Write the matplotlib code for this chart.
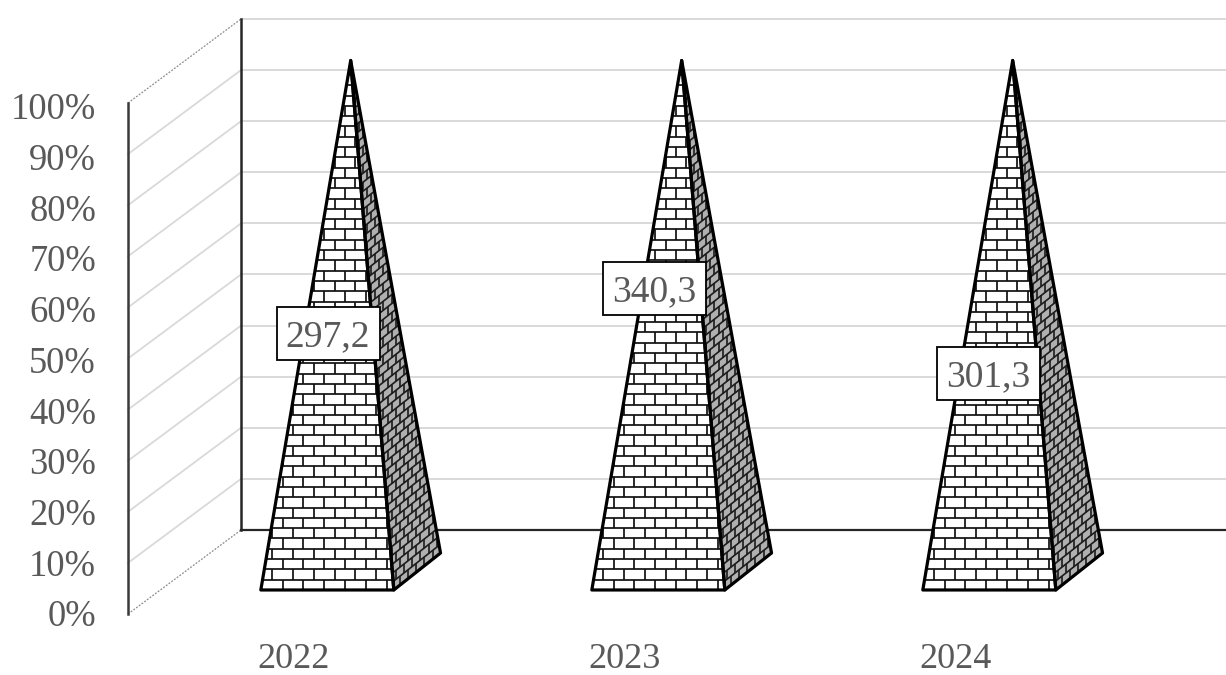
#!/usr/bin/env python3
"""3D-style 100% pyramid chart with brick fill, drawn by hand on flat axes"""

import matplotlib
matplotlib.use('Agg')
import matplotlib.pyplot as plt
from matplotlib.collections import LineCollection
from matplotlib.patches import Polygon, Rectangle

years = ['2022', '2023', '2024']
values = [297.2, 340.3, 301.3]
value_labels = ['297,2', '340,3', '301,3']
percent_ticks = [0, 10, 20, 30, 40, 50, 60, 70, 80, 90, 100]
# where each value box sits: height in percent, sideways shift in pixels
label_heights = [54.9, 63.7, 47.0]
label_shifts = [34.5, 30, 32.5]

WIDTH, HEIGHT = 1226, 675
TEXT = '#595959'
GRID = '#d9d9d9'

# pixel layout of the front plane
PX_LEFT, PX_CAT = 128, 331
PX_ZERO, PX_PCT = 614, 5.11
# shift of the back wall relative to the front, in data units
DEPTH_X = 113 / PX_CAT
DEPTH_Y = 84 / PX_PCT

plt.rcParams['font.family'] = ['Liberation Serif', 'DejaVu Serif']

fig = plt.figure(figsize=(WIDTH / 100, HEIGHT / 100), dpi=100)
ax = fig.add_axes([0, 0, 1, 1])
ax.set_xlim(-0.5 - PX_LEFT / PX_CAT, -0.5 + (WIDTH - PX_LEFT) / PX_CAT)
ax.set_ylim((PX_ZERO - HEIGHT) / PX_PCT, PX_ZERO / PX_PCT)
ax.axis('off')


def project(x, y, depth=0.0):
    return x + depth * DEPTH_X, y + depth * DEPTH_Y


# walls and floor
wall_x0, wall_x1 = -0.5, -0.5 + DEPTH_X
for p in percent_ticks[1:-1]:
    ax.plot([wall_x0, wall_x1], [p, p + DEPTH_Y], color=GRID, lw=1.3, zorder=1)
    ax.plot([wall_x1, 4], [p + DEPTH_Y, p + DEPTH_Y], color=GRID, lw=1.4, zorder=1)
ax.plot([wall_x1, 4], [100 + DEPTH_Y, 100 + DEPTH_Y], color=GRID, lw=1.4, zorder=1)
for p in (0, 100):
    ax.plot([wall_x0, wall_x1], [p, p + DEPTH_Y], color='#8c8c8c', lw=0.9,
            ls=(0, (1.5, 1.2)), zorder=1)
ax.plot([wall_x0, wall_x0], [0, 100], color='#3a3a3a', lw=1.8, zorder=2)
ax.plot([wall_x1, wall_x1], [DEPTH_Y, 100 + DEPTH_Y], color='#262626', lw=1.8, zorder=2)
ax.plot([wall_x1, 4], [DEPTH_Y, DEPTH_Y], color='#262626', lw=1.6, zorder=2)

# brick pattern sizes, in data units
ROW = 10.3 / PX_PCT
BRICK = 20.8 / PX_CAT
SIDE_ROW = 9.0 / PX_PCT
SIDE_STEP = 8.2 / PX_CAT
SLOPE = 37 / 47 * PX_CAT / PX_PCT  # rise of the side bricks per unit of x

half_w = 66.5 / PX_CAT
d_front, d_back, d_mid = 0.286, 0.726, 0.506
base_nudge = 1.5 / PX_CAT
box_w, box_h = 103 / PX_CAT, 53 / PX_PCT

for i, value in enumerate(values):
    # 100% stacked with one series: every pyramid reaches the full height
    pct = value / values[i] * 100
    fl = project(i - half_w + base_nudge, 0, d_front)
    fr = project(i + half_w + base_nudge, 0, d_front)
    br = project(i + half_w - base_nudge, 0, d_back)
    apex = project(i, pct, d_mid)

    front = Polygon([fl, fr, apex], closed=True, fc='white', ec='none', zorder=3)
    side = Polygon([fr, br, apex], closed=True, fc='#b0b0b0', ec='none', zorder=3)
    ax.add_patch(front)
    ax.add_patch(side)

    # front face: running bond bricks
    h_segs, v_segs = [], []
    for r in range(52):
        y0 = fl[1] + r * ROW
        h_segs.append([(fl[0], y0), (fr[0], y0)])
        shift = 21.7 / PX_CAT if r % 2 == 0 else 11.3 / PX_CAT
        x = fl[0] + shift
        while x < fr[0]:
            v_segs.append([(x, y0), (x, y0 + ROW)])
            x += BRICK
    lines = LineCollection(h_segs + v_segs, colors='#111111', linewidths=1.25, zorder=4)
    ax.add_collection(lines)
    lines.set_clip_path(front)

    # side face: same bricks sheared along the depth direction
    side_segs = []
    for r in range(-6, 90):
        y0 = fr[1] + r * SIDE_ROW
        x_start = apex[0] - 2 * SIDE_STEP
        x_stop = br[0] + SIDE_STEP
        side_segs.append([(x_start, y0 + (x_start - fr[0]) * SLOPE),
                          (x_stop, y0 + (x_stop - fr[0]) * SLOPE)])
        x = x_start
        while x < x_stop:
            x_b = x + (SIDE_STEP / 2 if r % 2 else 0)
            y_b = y0 + (x_b - fr[0]) * SLOPE
            side_segs.append([(x_b, y_b), (x_b, y_b + SIDE_ROW)])
            x += SIDE_STEP
    side_lines = LineCollection(side_segs, colors='#1c1c1c', linewidths=1.2, zorder=4)
    ax.add_collection(side_lines)
    side_lines.set_clip_path(side)

    # outlines
    for pts in ([fl, fr, apex], [fr, br, apex]):
        ax.add_patch(Polygon(pts, closed=True, fc='none', ec='black', lw=2.3,
                             joinstyle='round', zorder=5))

    # year under the front plane
    ax.text(i, -9.0, years[i], ha='center', va='center', fontsize=26, color=TEXT)

    # value box on the face, text sits a little low inside it
    cx = i + label_shifts[i] / PX_CAT
    cy = label_heights[i]
    ax.add_patch(Rectangle((cx - box_w / 2, cy - box_h / 2), box_w, box_h,
                           fc='white', ec='black', lw=1.3, zorder=6))
    ax.text(cx, cy - 0.6, value_labels[i], ha='center', va='center',
            fontsize=27, color=TEXT, zorder=7)

# percent labels sit on a slightly tighter spacing than the wall
for p in percent_ticks:
    ax.text(-0.5 - 32 / PX_CAT, p * 0.992 - 0.6, f'{p}%', ha='right', va='center',
            fontsize=26.3, color=TEXT)

fig.savefig('out.png', dpi=100, facecolor='white')
plt.close(fig)
